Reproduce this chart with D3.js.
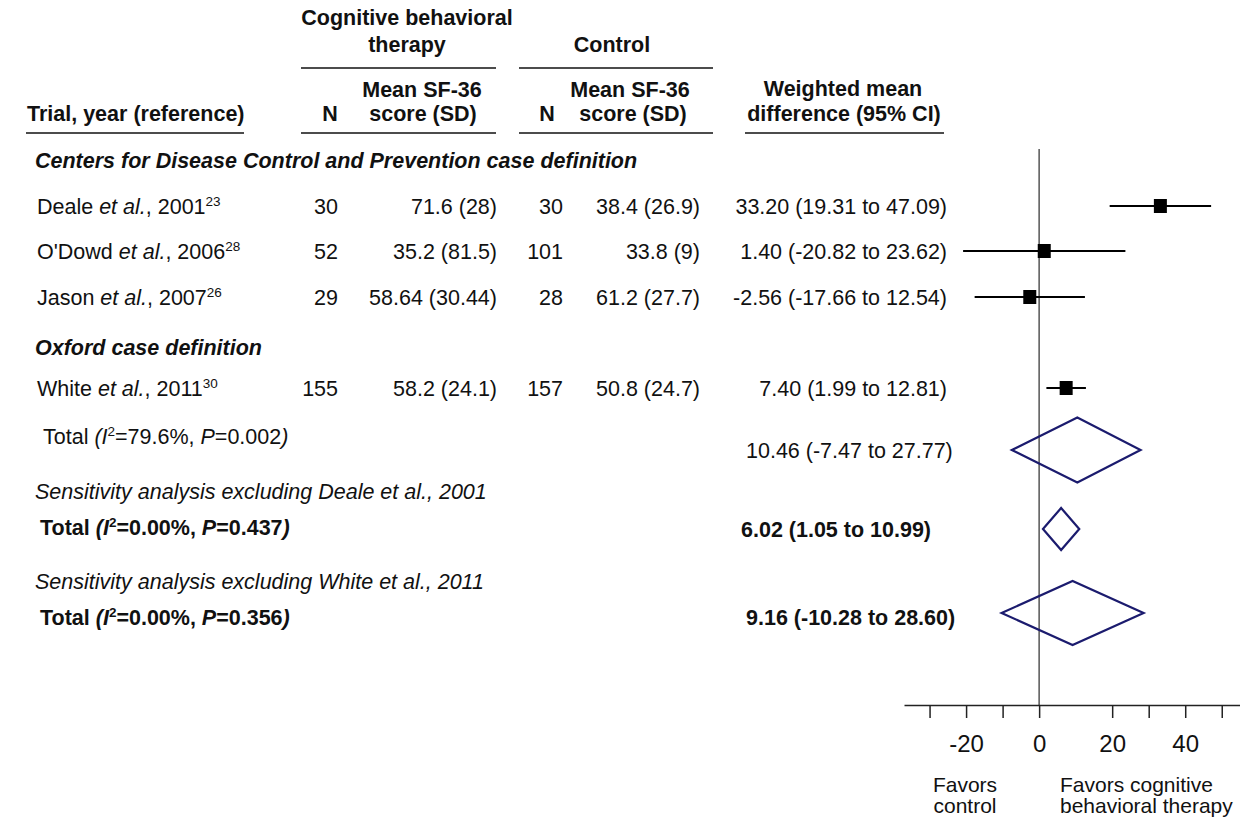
<!DOCTYPE html>
<html><head><meta charset="utf-8">
<script src="https://cdn.jsdelivr.net/npm/d3@7"></script>
<style>
html,body{margin:0;padding:0;background:#fff;}
svg text{font-family:"Liberation Sans", Arial, Helvetica, sans-serif; fill:#111;}
</style></head><body>
<svg id="chart" width="1240" height="823"></svg>
<script>
// ---- Trial-level data ----
const trialAuthors = ["Deale", "O'Dowd", "Jason", "White"];
const trialYears = ["2001", "2006", "2007", "2011"];
const trialRefs = ["23", "28", "26", "30"];
const cbtN = [30, 52, 29, 155];
const cbtMean = [71.6, 35.2, 58.64, 58.2];
const cbtSD = [28, 81.5, 30.44, 24.1];
const controlN = [30, 101, 28, 157];
const controlMean = [38.4, 33.8, 61.2, 50.8];
const controlSD = [26.9, 9, 27.7, 24.7];
const trialWMD = [33.20, 1.40, -2.56, 7.40];
const trialLow = [19.31, -20.82, -17.66, 1.99];
const trialHigh = [47.09, 23.62, 12.54, 12.81];
const groupTitles = ["Centers for Disease Control and Prevention case definition", "Oxford case definition"];

// ---- Pooled estimates ----
const pooledCaptions = ["", "Sensitivity analysis excluding Deale et al., 2001", "Sensitivity analysis excluding White et al., 2011"];
const pooledI2 = ["79.6%", "0.00%", "0.00%"];
const pooledP = ["0.002", "0.437", "0.356"];
const pooledWMD = [10.46, 6.02, 9.16];
const pooledLow = [-7.47, 1.05, -10.28];
const pooledHigh = [27.77, 10.99, 28.60];
const pooledBold = [false, true, true];

// ---- Axis ----
const axisTicks = [-30, -20, -10, 0, 20, 30, 40, 50];
const axisTickLabels = [-20, 0, 20, 40];
const favorLabels = [["Favors", "control"], ["Favors cognitive", "behavioral therapy"]];

// ---- Layout (pixels) ----
const FS = 21.5;
const layout = {
  trialY: [206, 251, 297, 388],
  groupY: [160, 347],
  captionY: [null, 491, 581],
  pooledLabelY: [436, 527, 617],
  pooledCIY: [450, 529, 617],
  diamondY: [450, 529, 613],
  diamondHalf: [32.5, 21, 32],
  pooledCIX: [746, 741, 746],
  labelX: 37, groupX: 35, captionX: 35,
  pooledLabelX: [43, 40, 40],
  nCbtX: 338, meanCbtX: 497, nCtlX: 563, meanCtlX: 700, ciX: 947,
  axisY: 705, zeroTop: 149
};

const svg = d3.select("#chart");
const x = d3.scaleLinear().domain([-37, 55]).range([904, 1240]);

// ---- Column headers ----
const hdr = svg.append("g").attr("font-weight", "bold").style("font-size", FS + "px");
function htext(tx, ty, s, anchor) {
  hdr.append("text").attr("x", tx).attr("y", ty).attr("text-anchor", anchor || "middle").text(s);
}
htext(407, 25, "Cognitive behavioral");
htext(407, 52, "therapy");
htext(612, 52, "Control");
htext(422, 97, "Mean SF-36");
htext(423, 121, "score (SD)");
htext(330, 121, "N");
htext(630, 97, "Mean SF-36");
htext(633, 121, "score (SD)");
htext(547, 121, "N");
htext(27, 121, "Trial, year (reference)", "start");
htext(843, 96, "Weighted mean");
htext(844, 121, "difference (95% CI)");

const rules = [[301, 496, 68], [519, 713, 68], [26, 244, 133], [301, 496, 133], [519, 713, 133], [745, 944, 133]];
svg.append("g").selectAll("line").data(rules).join("line")
  .attr("x1", d => d[0]).attr("x2", d => d[1]).attr("y1", d => d[2]).attr("y2", d => d[2])
  .attr("stroke", "#111").attr("stroke-width", 1.5);

// ---- Group titles ----
svg.append("g").selectAll("text").data(groupTitles).join("text")
  .attr("x", layout.groupX).attr("y", (d, i) => layout.groupY[i]).attr("dy", "0.36em")
  .attr("font-weight", "bold").attr("font-style", "italic").style("font-size", FS + "px")
  .text(d => d);

// ---- Trial rows ----
const trials = trialAuthors.map((a, i) => ({
  author: a, year: trialYears[i], ref: trialRefs[i],
  nC: cbtN[i], mC: cbtMean[i], sC: cbtSD[i],
  nK: controlN[i], mK: controlMean[i], sK: controlSD[i],
  est: trialWMD[i], lo: trialLow[i], hi: trialHigh[i], y: layout.trialY[i]
}));

const rows = svg.append("g").style("font-size", FS + "px");
trials.forEach(t => {
  const lab = rows.append("text").attr("x", layout.labelX).attr("y", t.y).attr("dy", "0.36em");
  lab.append("tspan").text(t.author + " ");
  lab.append("tspan").attr("font-style", "italic").text("et al.");
  lab.append("tspan").text(", " + t.year);
  lab.append("tspan").attr("dy", -8).style("font-size", "13.5px").text(t.ref);

  const cell = (cx, s) => rows.append("text").attr("x", cx).attr("y", t.y).attr("dy", "0.36em")
    .attr("text-anchor", "end").text(s);
  cell(layout.nCbtX, t.nC);
  cell(layout.meanCbtX, `${t.mC} (${t.sC})`);
  cell(layout.nCtlX, t.nK);
  cell(layout.meanCtlX, `${t.mK} (${t.sK})`);
  cell(layout.ciX, `${t.est.toFixed(2)} (${t.lo.toFixed(2)} to ${t.hi.toFixed(2)})`);
});

// ---- Pooled rows ----
const pooled = pooledWMD.map((e, i) => ({
  est: e, lo: pooledLow[i], hi: pooledHigh[i], i2: pooledI2[i], p: pooledP[i],
  caption: pooledCaptions[i], bold: pooledBold[i], i
}));
const prow = svg.append("g").style("font-size", FS + "px");
pooled.forEach(p => {
  if (p.caption) {
    prow.append("text").attr("x", layout.captionX).attr("y", layout.captionY[p.i]).attr("dy", "0.36em")
      .attr("font-style", "italic").text(p.caption);
  }
  const t = prow.append("text").attr("x", layout.pooledLabelX[p.i]).attr("y", layout.pooledLabelY[p.i])
    .attr("dy", "0.36em").attr("font-weight", p.bold ? "bold" : "normal");
  t.append("tspan").text("Total ");
  t.append("tspan").attr("font-style", "italic").text("(I");
  t.append("tspan").attr("dy", -8).style("font-size", "13.5px").text("2");
  t.append("tspan").attr("dy", 8).text("=" + p.i2 + ", ");
  t.append("tspan").attr("font-style", "italic").text("P");
  t.append("tspan").text("=" + p.p);
  t.append("tspan").attr("font-style", "italic").text(")");

  prow.append("text").attr("x", layout.pooledCIX[p.i]).attr("y", layout.pooledCIY[p.i]).attr("dy", "0.36em")
    .attr("font-weight", p.bold ? "bold" : "normal")
    .text(`${p.est.toFixed(2)} (${p.lo.toFixed(2)} to ${p.hi.toFixed(2)})`);
});

// ---- Forest plot ----
const plot = svg.append("g");

// line of no effect
plot.append("line")
  .attr("x1", x(0)).attr("x2", x(0)).attr("y1", layout.zeroTop).attr("y2", layout.axisY)
  .attr("stroke", "#555").attr("stroke-width", 1.5);

// confidence intervals and point estimates
plot.selectAll("line.ci").data(trials).join("line").attr("class", "ci")
  .attr("x1", d => x(d.lo)).attr("x2", d => x(d.hi)).attr("y1", d => d.y).attr("y2", d => d.y)
  .attr("stroke", "#000").attr("stroke-width", 2.2);
plot.selectAll("rect.pt").data(trials).join("rect").attr("class", "pt")
  .attr("x", d => x(d.est) - 6.5).attr("y", d => d.y - 7).attr("width", 13).attr("height", 14)
  .attr("fill", "#000");

// pooled diamonds
plot.selectAll("path.dia").data(pooled).join("path").attr("class", "dia")
  .attr("d", d => {
    const cy = layout.diamondY[d.i], h = layout.diamondHalf[d.i];
    return `M${x(d.lo)},${cy}L${x(d.est)},${cy - h}L${x(d.hi)},${cy}L${x(d.est)},${cy + h}Z`;
  })
  .attr("fill", "none").attr("stroke", "#1b1b6e").attr("stroke-width", 2.2).attr("stroke-linejoin", "miter");

// x axis
const axis = d3.axisBottom(x).tickValues(axisTicks).tickSize(13).tickSizeOuter(0).tickPadding(17)
  .tickFormat(d => axisTickLabels.includes(d) ? String(d) : "");
const ag = svg.append("g").attr("transform", `translate(0,${layout.axisY})`).call(axis);
ag.select(".domain").attr("stroke", "#222").attr("stroke-width", 1.5);
ag.selectAll(".tick line").attr("stroke", "#222").attr("stroke-width", 1.5);
ag.selectAll(".tick text").attr("fill", "#111").style("font-size", "24px")
  .style("font-family", '"Liberation Sans", Arial, sans-serif');

// favour labels
const fav = svg.append("g").style("font-size", "21px");
const favX = [965, 1060], favAnchor = ["middle", "start"];
favorLabels.forEach((lines, k) => {
  lines.forEach((s, j) => {
    fav.append("text").attr("x", favX[k]).attr("y", 792 + j * 21).attr("text-anchor", favAnchor[k]).text(s);
  });
});
</script>
</body></html>
